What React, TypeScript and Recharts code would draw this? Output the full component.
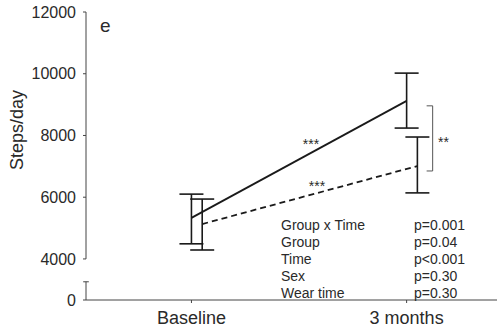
import React from 'react';
import { LineChart, Line, XAxis, YAxis, ErrorBar, ReferenceLine } from 'recharts';

const timepoints = ['Baseline', '3 months'];
const interventionMean = [5330, 9120];
const interventionLow = [4490, 8240];
const interventionHigh = [6100, 10020];
const controlMean = [5130, 7010];
const controlLow = [4290, 6140];
const controlHigh = [5940, 7950];

const yTicks = [4000, 6000, 8000, 10000, 12000];
const stats = [
  ['Group x Time', 'p=0.001'],
  ['Group', 'p=0.04'],
  ['Time', 'p<0.001'],
  ['Sex', 'p=0.30'],
  ['Wear time', 'p=0.30'],
];

// axis break: the "0" tick sits just below the cut
const BREAK_BOTTOM = 2670;
const BREAK_TOP = 3260;
const X_MIN = -0.49;
const X_MAX = 1.42;
const CONTROL_SHIFT = 0.05;

const build = (mean: number[], low: number[], high: number[], shift: number) =>
  mean.map((m, i) => ({
    x: i + shift,
    y: m,
    err: [m - low[i], high[i] - m],
  }));

const interventionData = build(interventionMean, interventionLow, interventionHigh, 0);
const controlData = build(controlMean, controlLow, controlHigh, CONTROL_SHIFT);

const INK = '#1a1a1a';
const TEXT = '#2a2a2a';
const FONT = 'Liberation Sans, Arial, sans-serif';

export default function App() {
  return (
    <div style={{ position: 'absolute', left: 0, top: 0, width: 500, height: 332, background: '#fff' }}>
      <LineChart
        width={500}
        height={332}
        margin={{ top: 12, right: 3, left: 36, bottom: 0 }}
        style={{ fontFamily: FONT }}
      >
        <XAxis
          type="number"
          dataKey="x"
          domain={[X_MIN, X_MAX]}
          ticks={[0, 1]}
          allowDataOverflow
          tickFormatter={(v: number) => timepoints[v]}
          stroke="#444"
          tickSize={3}
          tickMargin={8}
          height={32}
          tick={{ fill: TEXT, fontSize: 18 }}
        />
        <YAxis
          type="number"
          domain={[BREAK_BOTTOM, 12000]}
          ticks={[BREAK_BOTTOM, ...yTicks]}
          tickFormatter={(v: number) => (v === BREAK_BOTTOM ? '0' : String(v))}
          axisLine={false}
          stroke="#444"
          tickSize={3}
          tickMargin={7}
          width={50}
          tick={{ fill: TEXT, fontSize: 16 }}
          allowDataOverflow
        />
        <ReferenceLine segment={[{ x: X_MIN, y: 4000 }, { x: X_MIN, y: 12000 }]} stroke="#444" ifOverflow="visible" />
        <ReferenceLine segment={[{ x: X_MIN, y: BREAK_BOTTOM }, { x: X_MIN, y: BREAK_TOP }]} stroke="#444" ifOverflow="visible" />
        <ReferenceLine segment={[{ x: X_MIN - 0.013, y: BREAK_TOP }, { x: X_MIN + 0.013, y: BREAK_TOP }]} stroke="#444" ifOverflow="visible" />
        {/* significance bracket at 3 months */}
        <ReferenceLine segment={[{ x: 1.121, y: 8960 }, { x: 1.121, y: 6850 }]} stroke="#555" ifOverflow="visible" />
        <ReferenceLine segment={[{ x: 1.093, y: 8960 }, { x: 1.121, y: 8960 }]} stroke="#555" ifOverflow="visible" />
        <ReferenceLine segment={[{ x: 1.093, y: 6850 }, { x: 1.121, y: 6850 }]} stroke="#555" ifOverflow="visible" />
        <Line
          data={interventionData}
          dataKey="y"
          stroke={INK}
          strokeWidth={1.8}
          dot={false}
          isAnimationActive={false}
        >
          <ErrorBar dataKey="err" direction="y" width={12} stroke={INK} strokeWidth={1.6} />
        </Line>
        <Line
          data={controlData}
          dataKey="y"
          stroke={INK}
          strokeWidth={1.8}
          strokeDasharray="6 4"
          dot={false}
          isAnimationActive={false}
        >
          <ErrorBar dataKey="err" direction="y" width={12} stroke={INK} strokeWidth={1.6} />
        </Line>
      </LineChart>
      <svg
        width={500}
        height={332}
        style={{ position: 'absolute', left: 0, top: 0, pointerEvents: 'none', fontFamily: FONT }}
      >
        <text x={17} y={130} fontSize={18} fill={TEXT} textAnchor="middle" dominantBaseline="central" transform="rotate(-90 17 130)">
          Steps/day
        </text>
        <text x={100} y={32} fontSize={19} fill={TEXT}>e</text>
        <text x={311} y={149} fontSize={14} fill={TEXT} textAnchor="middle">***</text>
        <text x={317} y={191} fontSize={14} fill={TEXT} textAnchor="middle">***</text>
        <text x={438} y={147} fontSize={14} fill={TEXT}>**</text>
        {stats.map(([name, p], i) => (
          <g key={name}>
            <text x={281} y={230 + i * 17} fontSize={14} fill={TEXT}>{name}</text>
            <text x={414} y={230 + i * 17} fontSize={14} fill={TEXT}>{p}</text>
          </g>
        ))}
      </svg>
    </div>
  );
}
